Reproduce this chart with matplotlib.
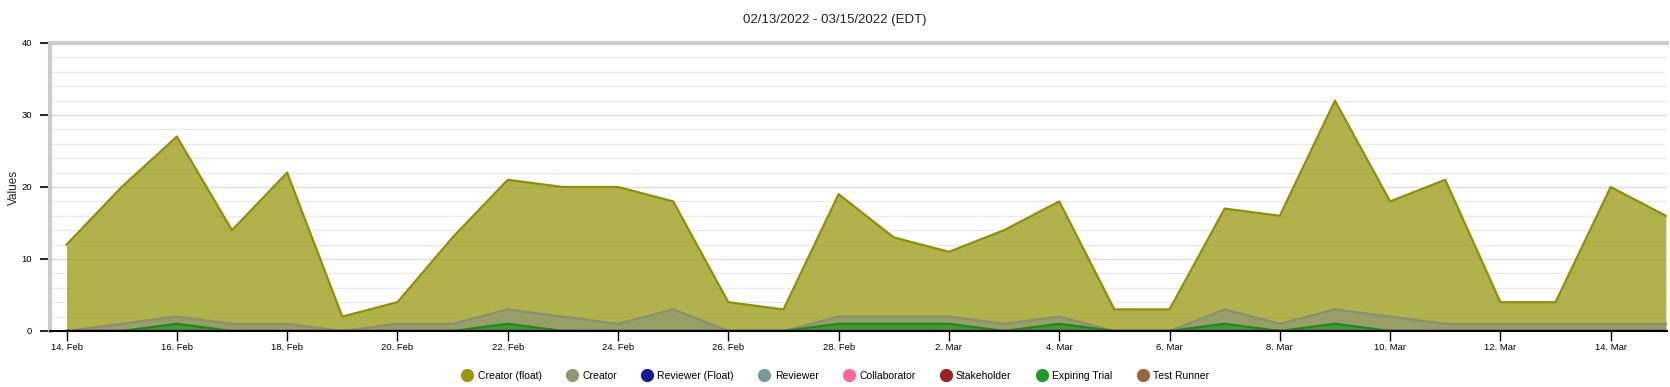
#AREA CHART OF DAILY SEAT USAGE BY ROLE

import matplotlib
matplotlib.use('Agg')
import matplotlib.pyplot as plt
from matplotlib.lines import Line2D
from matplotlib.ticker import MultipleLocator
import matplotlib.dates as mdates
import pandas as pd

plt.rcParams['font.family'] = ['Liberation Sans', 'DejaVu Sans']

title = "02/13/2022 - 03/15/2022 (EDT)"
days = pd.date_range('2022-02-14', '2022-03-15', freq='D')

series_names = ["Creator (float)", "Creator", "Reviewer (Float)", "Reviewer",
                "Collaborator", "Stakeholder", "Expiring Trial", "Test Runner"]

creator_float = [12, 20, 27, 14, 22, 2, 4, 13, 21, 20, 20, 18, 4, 3, 19,
                 13, 11, 14, 18, 3, 3, 17, 16, 32, 18, 21, 4, 4, 20, 16]
creator = [0, 1, 2, 1, 1, 0, 1, 1, 3, 2, 1, 3, 0, 0, 2,
           2, 2, 1, 2, 0, 0, 3, 1, 3, 2, 1, 1, 1, 1, 1]
reviewer_float = [0] * 30
reviewer = [0] * 30
collaborator = [0] * 30
stakeholder = [0] * 30
expiring_trial = [0, 0, 1, 0, 0, 0, 0, 0, 1, 0, 0, 0, 0, 0, 1,
                  1, 1, 0, 1, 0, 0, 1, 0, 1, 0, 0, 0, 0, 0, 0]
test_runner = [0] * 30

values = [creator_float, creator, reviewer_float, reviewer,
          collaborator, stakeholder, expiring_trial, test_runner]
colors = ['#999911', '#8f9870', '#1a1a90', '#7a9999',
          '#ff6699', '#992222', '#229922', '#996644']
line_colors = ['#8f8f0c', '#8a9070', '#1a1a90', '#7a9999',
               '#ff6699', '#992222', '#1e8a1e', '#996644']

fig = plt.figure(figsize=(16.7, 3.87), dpi=100)
ax = fig.add_axes([50/1670, 1 - 331/387, 1617/1670, 288/387])

for name, vals, c, lc in zip(series_names, values, colors, line_colors):
    ax.fill_between(days, 0, vals, color=c, alpha=0.75, lw=0)
    ax.plot(days, vals, color=lc, lw=1.6)

# axes
ax.set_ylim(0, 40)
ax.set_xlim(days[0] - pd.Timedelta(hours=7.2), days[-1] + pd.Timedelta(hours=0.5))
ax.yaxis.set_major_locator(MultipleLocator(10))
ax.yaxis.set_minor_locator(MultipleLocator(2))
ax.grid(which='major', axis='y', color='#dddddd', lw=1)
ax.grid(which='minor', axis='y', color='#ebebeb', lw=1)
ax.set_axisbelow(True)

ax.set_xticks(days[::2])
ax.xaxis.set_major_formatter(mdates.DateFormatter('%-d. %b'))
ax.tick_params(axis='x', which='major', length=7, width=1, color='black',
               labelsize=6.8, pad=2)
ax.tick_params(axis='y', which='major', length=7, width=1.2, color='black',
               labelsize=6.8, pad=6)
ax.tick_params(axis='y', which='minor', length=0)

for s in ['left', 'top']:
    ax.spines[s].set_color('#cccccc')
    ax.spines[s].set_linewidth(3)
ax.spines['right'].set_visible(False)
ax.spines['bottom'].set_color('black')
ax.spines['bottom'].set_linewidth(1.5)

ax.set_ylabel("Values", fontsize=8.5, color='#222222')
ax.yaxis.set_label_coords(-30/1617, 0.5)
fig.text(0.5, 1 - 20/387, title, ha='center', va='center', fontsize=9.5,
         color='#222222')

handles = [Line2D([], [], marker='o', ls='', markersize=8.5, color=c) for c in colors]
fig.legend(handles, series_names, loc='center', bbox_to_anchor=(0.5, 1 - 376/387),
           ncol=8, frameon=False, fontsize=7.5, handletextpad=0.4,
           columnspacing=2.3, handlelength=1.2)

fig.savefig('out.png', dpi=100)
